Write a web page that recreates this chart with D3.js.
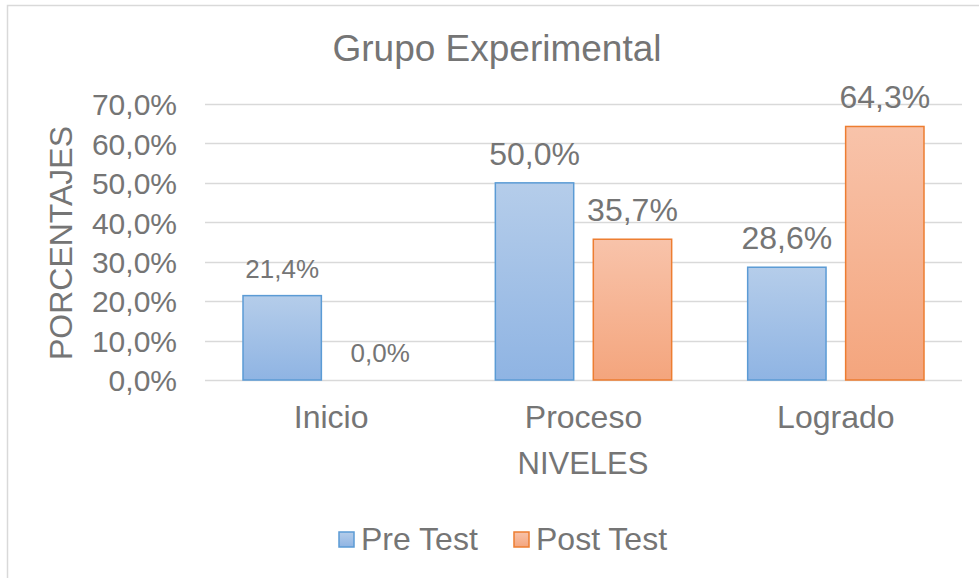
<!DOCTYPE html>
<html>
<head>
<meta charset="utf-8">
<script src="https://cdn.jsdelivr.net/npm/d3@7"></script>
<style>
  body { margin: 0; background: #fff; }
  svg text { font-family: "Liberation Sans", Arial, sans-serif; fill: #757575; }
</style>
</head>
<body>
<svg id="chart" width="979" height="578"></svg>
<script>
// data
var categories = ["Inicio", "Proceso", "Logrado"];
var seriesNames = ["Pre Test", "Post Test"];
var preTest = [21.4, 50.0, 28.6];
var postTest = [0.0, 35.7, 64.3];
var yTicks = [0, 10, 20, 30, 40, 50, 60, 70];

var svgWidth = 979, svgHeight = 578;
var margin = { top: 104, right: 17, bottom: 198, left: 205 };
var width = svgWidth - margin.left - margin.right;
var height = svgHeight - margin.top - margin.bottom;

var svg = d3.select("#chart");

// gradients for the bars
var defs = svg.append("defs");
var gradBlue = defs.append("linearGradient").attr("id", "gBlue")
    .attr("x1", 0).attr("y1", 0).attr("x2", 0).attr("y2", 1);
gradBlue.append("stop").attr("offset", "0%").attr("stop-color", "#b5cdea");
gradBlue.append("stop").attr("offset", "100%").attr("stop-color", "#8fb4e3");
var gradOrange = defs.append("linearGradient").attr("id", "gOrange")
    .attr("x1", 0).attr("y1", 0).attr("x2", 0).attr("y2", 1);
gradOrange.append("stop").attr("offset", "0%").attr("stop-color", "#f8c3aa");
gradOrange.append("stop").attr("offset", "100%").attr("stop-color", "#f4a57d");

var fills = ["url(#gBlue)", "url(#gOrange)"];
var strokes = ["#5b9bd5", "#ed7d31"];

// outer border of chart area
svg.append("rect")
    .attr("x", 7.5).attr("y", 5.5)
    .attr("width", 1000).attr("height", 1000)
    .attr("fill", "none")
    .attr("stroke", "#d9d9d9")
    .attr("stroke-width", 1.5);

var g = svg.append("g")
    .attr("transform", "translate(" + margin.left + "," + margin.top + ")");

//scales
var x0 = d3.scaleBand().domain(categories).range([0, width]).paddingInner(0).paddingOuter(0);
var x1 = d3.scaleBand().domain(seriesNames).range([38, x0.bandwidth() - 38]).paddingInner(0.2);
var y = d3.scaleLinear().domain([0, 70]).range([height, 0]);

// gridlines
g.append("g")
    .selectAll("line")
    .data(yTicks)
    .join("line")
    .attr("x1", 0).attr("x2", width)
    .attr("y1", function (d) { return Math.round(y(d)) + 0.5; })
    .attr("y2", function (d) { return Math.round(y(d)) + 0.5; })
    .attr("stroke", "#d9d9d9")
    .attr("stroke-width", 1.5);

// y axis labels
var yAxis = g.append("g")
    .call(d3.axisLeft(y).tickValues(yTicks).tickSize(0).tickPadding(28)
        .tickFormat(function (d) { return d.toFixed(1).replace(".", ",") + "%"; }));
yAxis.select(".domain").remove();
yAxis.selectAll("text")
    .attr("font-size", 30)
    .attr("fill", "#757575")
    .attr("dy", "0.36em");

// x axis labels
var xAxis = g.append("g")
    .attr("transform", "translate(0," + height + ")")
    .call(d3.axisBottom(x0).tickSize(0));
xAxis.select(".domain").remove();
xAxis.selectAll("text")
    .attr("font-size", 32)
    .attr("fill", "#757575")
    .attr("y", 48)
    .attr("dy", 0);

// bars
var rows = [preTest, postTest];
var barData = [];
categories.forEach(function (c, i) {
    seriesNames.forEach(function (s, j) {
        barData.push({ cat: c, series: s, idx: j, value: rows[j][i] });
    });
});

g.selectAll(".bar")
    .data(barData)
    .join("rect")
    .attr("class", "bar")
    .attr("x", function (d) { return x0(d.cat) + x1(d.series); })
    .attr("y", function (d) { return y(d.value); })
    .attr("width", x1.bandwidth())
    .attr("height", function (d) { return height - y(d.value); })
    .attr("fill", function (d) { return fills[d.idx]; })
    .attr("stroke", function (d) { return d.value > 0 ? strokes[d.idx] : "none"; })
    .attr("stroke-width", 1.5);

// value labels (the two on Inicio are a bit smaller)
g.selectAll(".lbl")
    .data(barData)
    .join("text")
    .attr("class", "lbl")
    .attr("x", function (d) { return x0(d.cat) + x1(d.series) + x1.bandwidth() / 2; })
    .attr("y", function (d) { return y(d.value) - 18; })
    .attr("text-anchor", "middle")
    .attr("font-size", function (d) { return d.cat === "Inicio" ? 26 : 32; })
    .text(function (d) { return d.value.toFixed(1).replace(".", ",") + "%"; });

// title
svg.append("text")
    .attr("x", 497).attr("y", 61)
    .attr("text-anchor", "middle")
    .attr("font-size", 37)
    .text("Grupo Experimental");

// axis titles
svg.append("text")
    .attr("transform", "translate(72,243) rotate(-90)")
    .attr("text-anchor", "middle")
    .attr("font-size", 32)
    .text("PORCENTAJES");

svg.append("text")
    .attr("x", 583).attr("y", 474)
    .attr("text-anchor", "middle")
    .attr("font-size", 31)
    .text("NIVELES");

// legend
var legendX = [339, 514];
var legend = svg.selectAll(".leg")
    .data(seriesNames)
    .join("g")
    .attr("class", "leg")
    .attr("transform", function (d, i) { return "translate(" + legendX[i] + ",532)"; });
legend.append("rect")
    .attr("width", 15).attr("height", 15)
    .attr("fill", function (d, i) { return fills[i]; })
    .attr("stroke", function (d, i) { return strokes[i]; })
    .attr("stroke-width", 1.5);
legend.append("text")
    .attr("x", 22).attr("y", 18)
    .attr("font-size", 32)
    .text(function (d) { return d; });
</script>
</body>
</html>
